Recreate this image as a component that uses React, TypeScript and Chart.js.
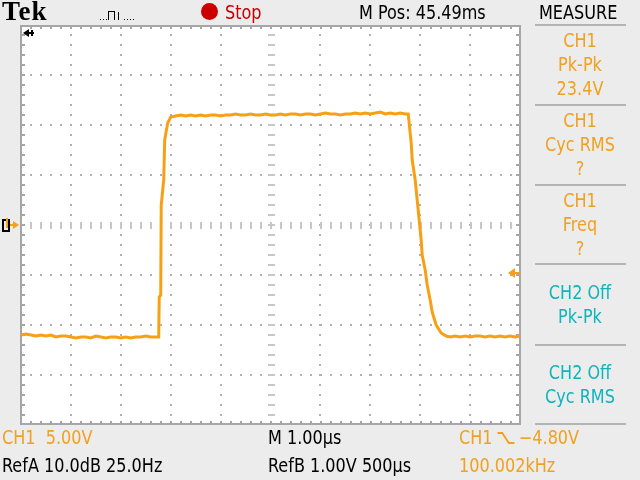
import React, { useEffect, useRef } from "react";
import { Chart, registerables } from "chart.js";

Chart.register(...registerables);

// ---- data (time in µs from left edge of screen, CH1 volts) ----
const timeUs = [
  0.0, 0.1, 0.2, 0.3, 0.4, 0.5, 0.6, 0.7, 0.8, 0.9, 1.0, 1.1, 1.2, 1.3, 1.4, 1.5, 1.6, 1.7, 1.8, 1.9,
  2.0, 2.1, 2.2, 2.3, 2.4, 2.5, 2.6, 2.7,
  2.76, 2.77, 2.8, 2.81, 2.86, 2.88, 2.94, 3.0,
  3.1, 3.2, 3.3, 3.4, 3.5, 3.6, 3.7, 3.8, 3.9, 4.0, 4.1, 4.2, 4.3, 4.4, 4.5, 4.6, 4.7, 4.8, 4.9,
  5.0, 5.1, 5.2, 5.3, 5.4, 5.5, 5.6, 5.7, 5.8, 5.9, 6.0, 6.1, 6.2, 6.3, 6.4, 6.5, 6.6, 6.7, 6.8,
  6.9, 7.0, 7.1, 7.2, 7.3, 7.4, 7.5, 7.6, 7.7,
  7.76, 7.82, 7.84, 7.9, 7.94, 7.98, 8.02, 8.04, 8.1, 8.14, 8.2, 8.24, 8.32, 8.42, 8.52,
  8.6, 8.7, 8.8, 8.9, 9.0, 9.1, 9.2, 9.3, 9.4, 9.5, 9.6, 9.7, 9.8, 9.9, 10.0,
];
const ch1Volts = [
  -11.0, -10.9, -11.0, -11.1, -11.0, -11.1, -11.0, -11.2, -11.1, -11.1, -11.2, -11.3, -11.2, -11.2,
  -11.3, -11.1, -11.2, -11.3, -11.2, -11.2, -11.3, -11.2, -11.3, -11.2, -11.2, -11.1, -11.2, -11.2,
  -11.2, -7.2, -7.0, 2.0, 4.5, 8.5, 10.2, 10.8,
  10.9, 11.0, 10.9, 11.0, 10.9, 11.0, 10.9, 11.0, 11.0, 10.9, 11.0, 11.0, 11.1, 11.0, 11.0, 11.1,
  11.0, 11.0, 11.1, 11.0, 11.0, 11.1, 11.0, 11.1, 11.1, 11.0, 11.1, 11.1, 11.0, 11.1, 11.2, 11.1,
  11.1, 11.0, 11.1, 11.1, 11.2, 11.1, 11.2, 11.1, 11.2, 11.3, 11.1, 11.2, 11.1, 11.2, 11.1,
  11.1, 8.2, 6.5, 4.5, 2.5, 0.5, -1.5, -3.0, -4.5, -6.0, -7.5, -8.7, -10.0, -10.8, -11.1,
  -11.2, -11.1, -11.2, -11.1, -11.2, -11.1, -11.1, -11.2, -11.1, -11.2, -11.1, -11.2, -11.1, -11.2,
  -11.1,
];

const xDivisions = 10; // 1.00 µs / div
const voltsPerDiv = 5; // 5.00 V / div
const yDivisions = 8;
const triggerLevelV = -4.8;

// ---- texts ----
const headerTexts = ["Tek", "Stop", "M Pos: 45.49ms", "MEASURE"];
const measureGroups = [
  ["CH1", "Pk-Pk", "23.4V"],
  ["CH1", "Cyc RMS", "?"],
  ["CH1", "Freq", "?"],
  ["CH2 Off", "Pk-Pk"],
  ["CH2 Off", "Cyc RMS"],
];
const measureColors = ["#f2a01e", "#f2a01e", "#f2a01e", "#10b4bc", "#10b4bc"];
const measureTops = [40, 120, 200, 292, 372];
const separatorYs = [24, 104, 184, 263, 344, 423];
const footerTexts = {
  ch1Scale: "CH1  5.00V",
  refA: "RefA 10.0dB 25.0Hz",
  timebase: "M 1.00µs",
  refB: "RefB 1.00V 500µs",
  trigSrc: "CH1",
  trigLevel: "−4.80V",
  freq: "100.002kHz",
};

const ORANGE = "#f2a01e";
const TRACE = "#f8a014";
const BG = "#ececec";
const FONT = '"Liberation Sans Narrow", "DejaVu Sans Condensed", "Arial Narrow", "Liberation Sans", sans-serif';

const graticulePlugin = {
  id: "graticule",
  beforeDatasetsDraw(chart: any) {
    const { ctx, chartArea, scales } = chart;
    const { left, top, right, bottom } = chartArea;
    const xs = scales.x;
    const ys = scales.y;
    ctx.save();
    ctx.fillStyle = "#ffffff";
    ctx.fillRect(left, top, right - left, bottom - top);
    // dotted major lines
    ctx.fillStyle = "#b0b0b0";
    for (let i = 1; i < xDivisions; i++) {
      if (i === xDivisions / 2) continue;
      const px = Math.round(xs.getPixelForValue(i));
      for (let py = top + 10; py < bottom - 2; py += 10) ctx.fillRect(px - 1, py - 1, 2, 2);
    }
    const half = (yDivisions / 2) * voltsPerDiv;
    for (let v = -half + voltsPerDiv; v < half; v += voltsPerDiv) {
      if (v === 0) continue;
      const py = Math.round(ys.getPixelForValue(v));
      for (let px = left + 10; px < right - 2; px += 10) ctx.fillRect(px - 1, py - 1, 2, 2);
    }
    // center crosshair
    const cx = Math.round(xs.getPixelForValue(xDivisions / 2));
    const cy = Math.round(ys.getPixelForValue(0));
    ctx.fillStyle = "#c6c6c6";
    for (let py = top + 10; py < bottom - 2; py += 10) ctx.fillRect(cx - 3, py - 1, 7, 2);
    for (let px = left + 10; px < right - 2; px += 10) ctx.fillRect(px - 1, cy - 3, 2, 7);
    // border with ticks
    ctx.fillStyle = "#a6a6a6";
    ctx.fillRect(left - 1, top, 2, bottom - top);
    ctx.fillRect(right - 1, top, 2, bottom - top);
    ctx.fillRect(left, top, right - left, 2);
    ctx.fillRect(left, bottom - 2, right - left, 2);
    for (let py = top + 10; py < bottom - 2; py += 10) {
      ctx.fillRect(left, py - 1, 4, 2);
      ctx.fillRect(right - 4, py - 1, 4, 2);
    }
    for (let px = left + 10; px < right - 2; px += 10) {
      ctx.fillRect(px - 1, top, 2, 4);
      ctx.fillRect(px - 1, bottom - 4, 2, 4);
    }
    ctx.restore();
  },
  afterDraw(chart: any) {
    const { ctx, chartArea, scales } = chart;
    const { left, top, right } = chartArea;
    const ys = scales.y;
    ctx.save();
    // trigger position arrow (black, top-left)
    ctx.fillStyle = "#000";
    ctx.beginPath();
    ctx.moveTo(left + 2, top + 8);
    ctx.lineTo(left + 8, top + 4);
    ctx.lineTo(left + 8, top + 12);
    ctx.closePath();
    ctx.fill();
    ctx.fillRect(left + 6, top + 7, 7, 2);
    ctx.fillRect(left + 10, top + 5, 2, 6);
    // channel 1 ground marker
    const gy = Math.round(ys.getPixelForValue(0));
    ctx.strokeStyle = "#000";
    ctx.lineWidth = 2;
    ctx.strokeRect(3, gy - 5, 6, 11);
    ctx.fillStyle = ORANGE;
    ctx.fillRect(6, gy - 7, 2, 10);
    ctx.beginPath();
    ctx.moveTo(19, gy);
    ctx.lineTo(13, gy - 4);
    ctx.lineTo(13, gy + 4);
    ctx.closePath();
    ctx.fill();
    ctx.fillRect(10, gy - 1, 4, 2);
    // trigger level arrow (orange, right)
    const ty = Math.round(ys.getPixelForValue(triggerLevelV));
    ctx.fillStyle = ORANGE;
    ctx.beginPath();
    ctx.moveTo(right - 12, ty);
    ctx.lineTo(right - 5, ty - 5);
    ctx.lineTo(right - 5, ty + 5);
    ctx.closePath();
    ctx.fill();
    ctx.fillRect(right - 6, ty - 1, 6, 2);
    // pulse icon in header
    ctx.fillStyle = "#000";
    for (let px = 100; px <= 106; px += 3) ctx.fillRect(px, 19, 1, 1);
    ctx.fillRect(108, 11, 1, 9);
    ctx.fillRect(108, 11, 6, 1);
    ctx.fillRect(114, 11, 1, 9);
    ctx.fillRect(118, 12, 1, 8);
    for (let px = 124; px <= 134; px += 3) ctx.fillRect(px, 19, 1, 1);
    ctx.restore();
  },
};

function Txt(props: { x: number; y: number; color?: string; size?: number; center?: boolean; children: any; style?: any }) {
  const size = props.size ?? 19;
  return (
    <div
      style={{
        position: "absolute",
        left: props.x,
        top: props.y - 10,
        height: 20,
        lineHeight: "20px",
        fontSize: size,
        fontFamily: FONT,
        color: props.color ?? "#000",
        whiteSpace: "nowrap",
        transform: "scaleX(0.94)",
        transformOrigin: props.center ? "center" : "left",
        ...(props.style || {}),
      }}
    >
      {props.children}
    </div>
  );
}

export default function App() {
  const canvasRef = useRef<HTMLCanvasElement | null>(null);

  useEffect(() => {
    const canvas = canvasRef.current;
    if (!canvas) return;
    const points = timeUs.map((t, i) => ({ x: t, y: ch1Volts[i] }));
    const half = (yDivisions / 2) * voltsPerDiv;
    const chart = new Chart(canvas, {
      type: "line",
      data: {
        datasets: [
          {
            label: "CH1",
            data: points,
            borderColor: TRACE,
            backgroundColor: TRACE,
            borderWidth: 3,
            pointRadius: 0,
            tension: 0,
            fill: false,
          },
        ],
      },
      options: {
        responsive: false,
        animation: false,
        events: [],
        layout: { padding: { left: 21, top: 25, right: 120, bottom: 55 } },
        scales: {
          x: { type: "linear", min: 0, max: xDivisions, display: false },
          y: { type: "linear", min: -half, max: half, display: false },
        },
        plugins: { legend: { display: false }, tooltip: { enabled: false } },
      },
      plugins: [graticulePlugin],
    } as any);
    return () => chart.destroy();
  }, []);

  return (
    <div style={{ position: "absolute", left: 0, top: 0, width: 640, height: 480, background: BG, overflow: "hidden" }}>
      <canvas ref={canvasRef} width={640} height={480} style={{ position: "absolute", left: 0, top: 0, width: 640, height: 480 }} />
      {/* header */}
      <Txt x={2} y={11} size={27} style={{ fontFamily: '"Liberation Serif", "DejaVu Serif", serif', fontWeight: 700, letterSpacing: 1, transform: "none" }}>
        {headerTexts[0]}
      </Txt>
      <div style={{ position: "absolute", left: 201, top: 3, width: 17, height: 17, borderRadius: "50%", background: "#cc0000" }} />
      <Txt x={225} y={12} color="#c80000">{headerTexts[1]}</Txt>
      <Txt x={359} y={12}>{headerTexts[2]}</Txt>
      <Txt x={539} y={12}>{headerTexts[3]}</Txt>
      {/* measure panel */}
      {separatorYs.map((sy, i) => (
        <div key={"s" + i} style={{ position: "absolute", left: 535, top: sy, width: 91, height: 2, background: "#b4b4b4" }} />
      ))}
      {measureGroups.map((g, gi) =>
        g.map((line, li) => (
          <Txt key={gi + "-" + li} x={530} y={measureTops[gi] + li * 24} center color={measureColors[gi]} style={{ width: 100, textAlign: "center" }}>
            {line}
          </Txt>
        ))
      )}
      {/* footer */}
      <Txt x={2} y={437} color={ORANGE} style={{ whiteSpace: "pre" }}>{footerTexts.ch1Scale}</Txt>
      <Txt x={2} y={465}>{footerTexts.refA}</Txt>
      <Txt x={268} y={437}>{footerTexts.timebase}</Txt>
      <Txt x={268} y={465}>{footerTexts.refB}</Txt>
      <Txt x={459} y={437} color={ORANGE}>
        {footerTexts.trigSrc}
        <svg width="20" height="16" style={{ verticalAlign: "-2px", margin: "0 4px" }}>
          <polyline points="1,3 6,3 13,13 19,13" fill="none" stroke={ORANGE} strokeWidth="2" />
        </svg>
        {footerTexts.trigLevel}
      </Txt>
      <Txt x={459} y={465} color={ORANGE}>{footerTexts.freq}</Txt>
    </div>
  );
}
